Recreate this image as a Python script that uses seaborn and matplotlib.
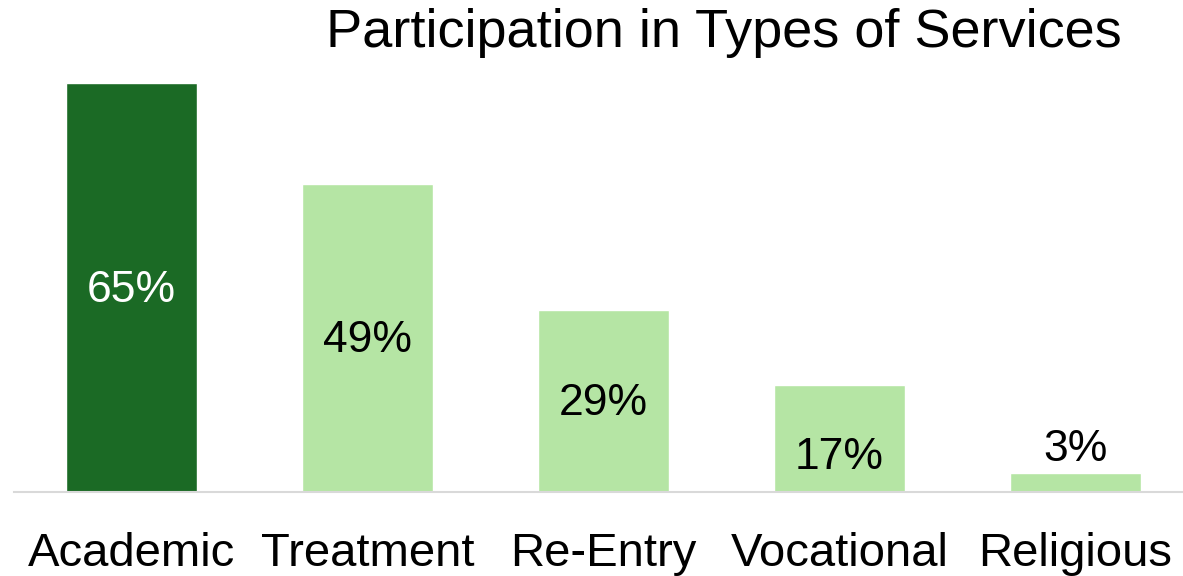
import matplotlib
matplotlib.use('Agg')
import matplotlib.pyplot as plt
import seaborn as sns
import pandas as pd

categories = ['Academic', 'Treatment', 'Re-Entry', 'Vocational', 'Religious']
values = [65, 49, 29, 17, 3]
bar_colors = ['#1B6A25', '#B5E5A4', '#B5E5A4', '#B5E5A4', '#B5E5A4']
label_colors = ['white', 'black', 'black', 'black', 'black']

sns.set_style('white')
plt.rcParams['font.family'] = ['Liberation Sans', 'DejaVu Sans']

df = pd.DataFrame({'category': categories, 'value': values})

fig = plt.figure(figsize=(11.83, 5.76), dpi=100)
ax = fig.add_axes([13.5 / 1183, 84 / 576, 1180 / 1183, 440 / 576])

sns.barplot(data=df, x='category', y='value', hue='category', palette=bar_colors,
            width=0.555, legend=False, ax=ax, saturation=1)
ax.set_xlim(-0.5, 4.5)
ax.set_ylim(0, 70)

# value labels: centred in bars, the short ones sit lower / above
for i, (bar, v) in enumerate(zip(ax.patches, values)):
    x = bar.get_x() + bar.get_width() / 2
    if v < 10:
        ax.text(x, v + 0.5, f'{v}%', ha='center', va='bottom', fontsize=32, color=label_colors[i])
    elif v < 20:
        ax.text(x, v * 0.32, f'{v}%', ha='center', va='center', fontsize=32, color=label_colors[i])
    else:
        ax.text(x, v / 2 - 0.4, f'{v}%', ha='center', va='center', fontsize=32, color=label_colors[i])

ax.set_xlabel('')
ax.set_ylabel('')
ax.set_yticks([])
ax.tick_params(axis='x', length=0, pad=29, labelsize=34, labelcolor='black')
for side in ['top', 'right', 'left']:
    ax.spines[side].set_visible(False)
ax.spines['bottom'].set_color('#D9D9D9')
ax.spines['bottom'].set_linewidth(1.5)

fig.text(723.5 / 1183, (576 - 47) / 576, 'Participation in Types of Services',
         ha='center', va='baseline', fontsize=39, color='black')

fig.savefig('out.png', dpi=100)
